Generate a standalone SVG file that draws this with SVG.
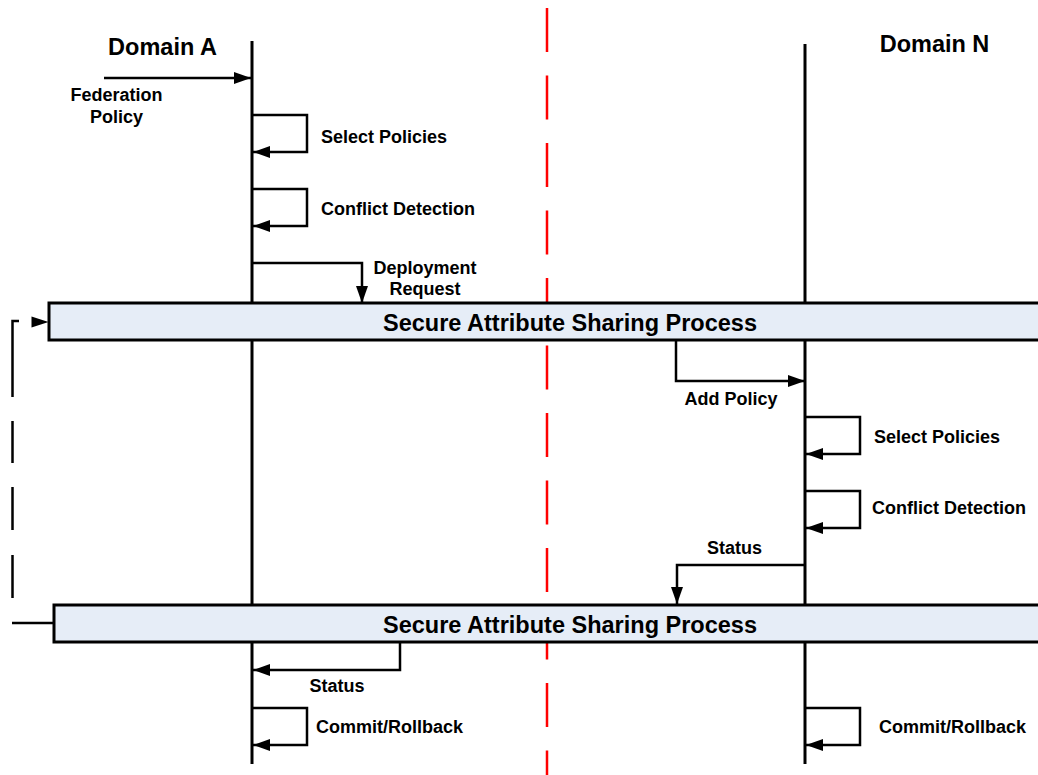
<svg xmlns="http://www.w3.org/2000/svg" width="1038" height="775" viewBox="0 0 1038 775">
<defs>
<style>
.t{font-family:"Liberation Sans",Arial,sans-serif;font-weight:bold;fill:#000}
.lbl{font-size:18px}
.big{font-size:23.5px}
.life{stroke:#000;stroke-width:3;fill:none}
.msg{stroke:#000;stroke-width:2.5;fill:none}
.box{fill:#e6edf7;stroke:#000;stroke-width:3}
</style>
<marker id="ah" markerUnits="userSpaceOnUse" markerWidth="17" markerHeight="12" refX="17" refY="6" orient="auto">
<path d="M0,0 L17,6 L0,12 z" fill="#000"/>
</marker>
</defs>
<rect width="1038" height="775" fill="#fff"/>
<line id="divider" x1="547" y1="8" x2="547" y2="775" stroke="#ff0000" stroke-width="2.5" stroke-dasharray="44 23.5"/>
<g id="domainA">
<text class="t big" x="162.5" y="55" text-anchor="middle">Domain A</text>
<line class="life" x1="252" y1="41" x2="252" y2="303"/>
<line class="life" x1="252" y1="341" x2="252" y2="605"/>
<line class="life" x1="252" y1="642" x2="252" y2="764"/>
</g>
<g id="domainN">
<text class="t big" x="934.5" y="52" text-anchor="middle">Domain N</text>
<line class="life" x1="805" y1="44" x2="805" y2="303"/>
<line class="life" x1="805" y1="341" x2="805" y2="605"/>
<line class="life" x1="805" y1="642" x2="805" y2="764"/>
</g>
<g id="process1">
<rect class="box" x="49" y="303" width="1000" height="37"/>
<text class="t big" x="570" y="331" text-anchor="middle">Secure Attribute Sharing Process</text>
</g>
<g id="process2">
<rect class="box" x="54" y="605" width="1000" height="37"/>
<text class="t big" x="570" y="633" text-anchor="middle">Secure Attribute Sharing Process</text>
</g>
<g id="connectors">
<line class="msg" x1="104" y1="78" x2="251" y2="78" marker-end="url(#ah)"/>
<path class="msg" d="M253,115 H307 V152 H253" marker-end="url(#ah)"/>
<path class="msg" d="M253,189 H307 V226 H253" marker-end="url(#ah)"/>
<path class="msg" d="M253,263 H362 V303" marker-end="url(#ah)"/>
<path class="msg" d="M676,341 V381 H805" marker-end="url(#ah)"/>
<path class="msg" d="M806,417 H860 V454 H806" marker-end="url(#ah)"/>
<path class="msg" d="M806,491 H860 V528 H806" marker-end="url(#ah)"/>
<path class="msg" d="M805,565 H677 V604" marker-end="url(#ah)"/>
<path class="msg" d="M400,642 V670 H253" marker-end="url(#ah)"/>
<path class="msg" d="M253,708 H307 V745 H253" marker-end="url(#ah)"/>
<path class="msg" d="M806,708 H860 V745 H806" marker-end="url(#ah)"/>
<path class="msg" d="M19,321 H12.5 V397 M12.5,421 V463 M12.5,487 V530 M12.5,555 V598"/>
<path d="M31.5,316.5 L48.5,322 L31.5,327.5 z" fill="#000"/>
<line class="msg" x1="12" y1="623" x2="54" y2="623"/>
</g>
<g id="labels">
<text class="t lbl" x="116.5" y="101" text-anchor="middle">Federation</text>
<text class="t lbl" x="116.5" y="123" text-anchor="middle">Policy</text>
<text class="t lbl" x="321" y="143">Select Policies</text>
<text class="t lbl" x="321" y="215">Conflict Detection</text>
<text class="t lbl" x="425" y="274" text-anchor="middle">Deployment</text>
<text class="t lbl" x="425" y="295" text-anchor="middle">Request</text>
<text class="t lbl" x="731" y="405" text-anchor="middle">Add Policy</text>
<text class="t lbl" x="874" y="443">Select Policies</text>
<text class="t lbl" x="872" y="514">Conflict Detection</text>
<text class="t lbl" x="734.5" y="554" text-anchor="middle">Status</text>
<text class="t lbl" x="337" y="692" text-anchor="middle">Status</text>
<text class="t lbl" x="316" y="733">Commit/Rollback</text>
<text class="t lbl" x="879" y="733">Commit/Rollback</text>
</g>
</svg>
